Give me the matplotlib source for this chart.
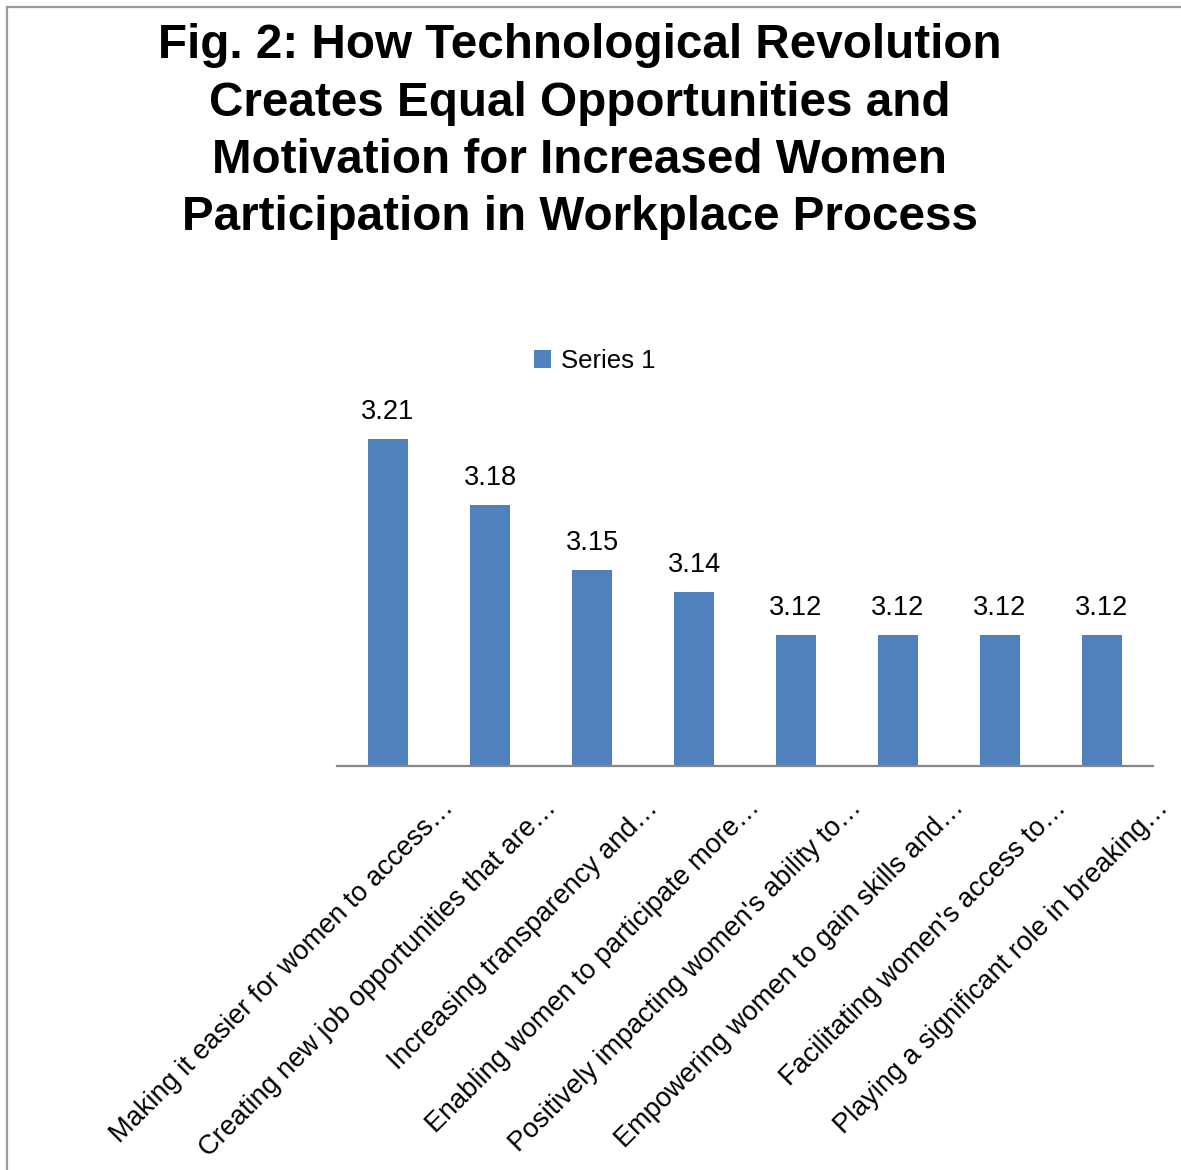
import matplotlib.pyplot as plt
import numpy as np
from matplotlib.lines import Line2D
from matplotlib.transforms import ScaledTranslation

plt.rcParams["font.family"] = ["Liberation Sans", "DejaVu Sans"]

title_lines = [
    "Fig. 2: How Technological Revolution",
    "Creates Equal Opportunities and",
    "Motivation for Increased Women",
    "Participation in Workplace Process",
]
categories = [
    "Making it easier for women to access…",
    "Creating new job opportunities that are…",
    "Increasing transparency and…",
    "Enabling women to participate more…",
    "Positively impacting women's ability to…",
    "Empowering women to gain skills and…",
    "Facilitating women's access to…",
    "Playing a significant role in breaking…",
]
values = [3.21, 3.18, 3.15, 3.14, 3.12, 3.12, 3.12, 3.12]
series_name = "Series 1"

W, H = 1181, 1170
fig = plt.figure(figsize=(W / 100, H / 100), dpi=100)
ax = fig.add_axes([337 / W, 1 - 766 / H, (1153 - 337) / W, (766 - 374) / H])

x = np.arange(len(categories))
bars = ax.bar(x, values, width=0.4, color="#4F81BD", label=series_name, zorder=2)
ax.set_xlim(-0.5, len(categories) - 0.5)
ax.set_ylim(3.06, 3.24)

for b, v in zip(bars, values):
    ax.annotate(f"{v:.2f}", (b.get_x() + b.get_width() / 2, v),
                xytext=(0, 14.5), textcoords="offset points",
                ha="center", va="baseline", fontsize=19.5)

# axis styling: only the category baseline is kept
for side in ["left", "right", "top"]:
    ax.spines[side].set_visible(False)
ax.spines["bottom"].set_color("#888888")
ax.spines["bottom"].set_linewidth(1.6)
ax.set_xticks([])
ax.set_yticks([])

# rotated category labels, right end anchored below and right of each bar
shift = ScaledTranslation(67 / 100, -43 / 100, fig.dpi_scale_trans)
for xi, name in zip(x, categories):
    ax.text(xi, 0, name, transform=ax.get_xaxis_transform() + shift,
            rotation=45, rotation_mode="anchor", ha="right", va="baseline",
            fontsize=19.5)

ax.legend(loc="center", bbox_to_anchor=(595 / W, 1 - 361 / H),
          bbox_transform=fig.transFigure, frameon=False, fontsize=18.5,
          handlelength=0.65, handleheight=0.65, handletextpad=0.4)

for i, line in enumerate(title_lines):
    fig.text(580 / W, 1 - (58 + 57.5 * i) / H, line, ha="center",
             va="baseline", fontsize=34.3, fontweight="bold")

# chart frame (left and top edges)
fig.add_artist(Line2D([7 / W, 7 / W], [0, 1 - 7 / H], color="#9a9a9a", lw=1.6))
fig.add_artist(Line2D([7 / W, 1], [1 - 7 / H, 1 - 7 / H], color="#9a9a9a", lw=1.6))

fig.savefig("out.png", dpi=100, facecolor="white")
